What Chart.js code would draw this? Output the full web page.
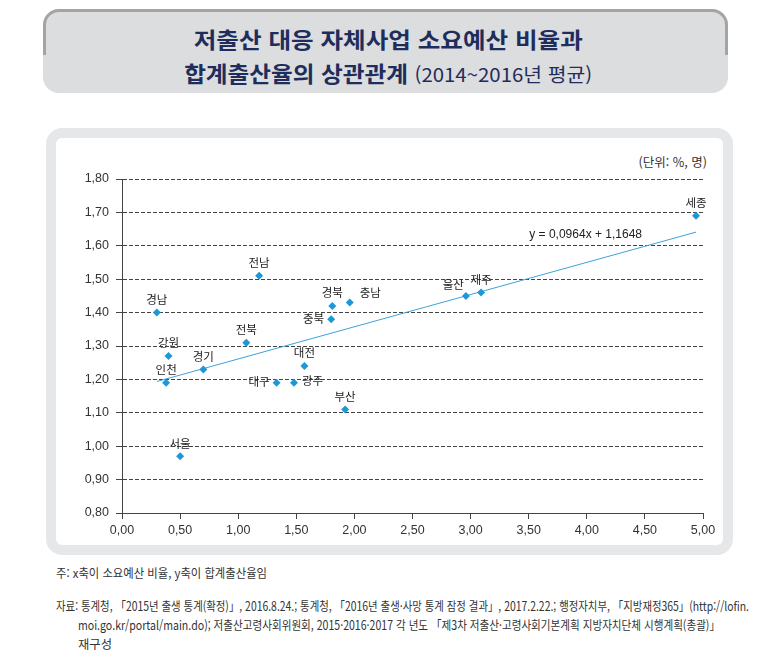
<!DOCTYPE html>
<html lang="ko">
<head>
<meta charset="utf-8">
<title>저출산 대응 자체사업 소요예산 비율과 합계출산율의 상관관계</title>
<script src="https://cdn.jsdelivr.net/npm/chart.js@4.4.1/dist/chart.umd.min.js"></script>
<style>
    html, body { margin: 0; padding: 0; background: #fff; }
    body { width: 759px; height: 657px; position: relative; overflow: hidden;
           font-family: "Noto Sans CJK KR", sans-serif; color: #222; }
    .title-box { position: absolute; left: 43px; top: 9px; width: 685px; height: 84px;
                 background: #dcdddf; border-radius: 16px; }
    .title-box:before { content: ''; position: absolute; left: 0; top: 0; right: 0; height: 46px;
                        box-sizing: border-box; border: 3px solid #a3a4a6; border-bottom: none;
                        border-radius: 16px 16px 0 0; }
    .tline { position: absolute; left: 0; width: 776px; text-align: center; line-height: 30px;
             white-space: nowrap; color: #1f2d5c; }
    .tline span { display: inline-block; transform-origin: center; }
    .t1 { top: 23px; font-size: 22px; font-weight: 700; }
    .t2 { top: 57px; font-size: 22px; font-weight: 700; }
    .t2 small { font-size: 19px; font-weight: 400; }
    .panel { position: absolute; left: 46px; top: 128px; width: 687px; height: 427px;
             box-sizing: border-box; border: 10px solid #e6e7e8; border-radius: 16px; background: #fff; }
    .chart-wrap { position: absolute; left: 56px; top: 138px; width: 666px; height: 407px; }
    .unit { position: absolute; right: 52px; top: 152px; font-size: 12.5px; color: #333; white-space: nowrap; }
    .note { position: absolute; white-space: nowrap; font-size: 12.5px; color: #333; line-height: 19px;
            transform-origin: left center; }
</style>
</head>
<body>
<div class="title-box"></div>
<div class="tline t1"><span data-w="389">저출산 대응 자체사업 소요예산 비율과</span></div>
<div class="tline t2"><span data-w="408">합계출산율의 상관관계 <small>(2014~2016년 평균)</small></span></div>

<div class="panel"></div>
<div class="unit">(단위: %, 명)</div>
<div class="chart-wrap"><canvas id="scatterChart"></canvas></div>

<div class="note" style="left:56px; top:563px;" data-w="211">주: x축이 소요예산 비율, y축이 합계출산율임</div>
<div class="note" style="left:56px; top:596px;" data-w="693">자료: 통계청, 「2015년 출생 통계(확정)」, 2016.8.24.; 통계청, 「2016년 출생·사망 통계 잠정 결과」, 2017.2.22.; 행정자치부, 「지방재정365」(http://lofin.</div>
<div class="note" style="left:78px; top:615px;" data-w="642">moi.go.kr/portal/main.do); 저출산고령사회위원회, 2015·2016·2017 각 년도 「제3차 저출산·고령사회기본계획 지방자치단체 시행계획(총괄)」</div>
<div class="note" style="left:78px; top:634px;" data-w="34">재구성</div>

<script>
// 시도별 값
const regions     = ['서울', '부산', '대구', '인천', '광주', '대전', '울산', '세종', '경기',
                     '강원', '충북', '충남', '전북', '전남', '경북', '경남', '제주'];
const budgetRatio = [0.50, 1.92, 1.33, 0.38, 1.48, 1.57, 2.96, 4.94, 0.70,
                     0.40, 1.80, 1.96, 1.07, 1.18, 1.81, 0.30, 3.09];
const fertility   = [0.97, 1.11, 1.19, 1.19, 1.19, 1.24, 1.45, 1.69, 1.23,
                     1.27, 1.38, 1.43, 1.31, 1.51, 1.42, 1.40, 1.46];

// 추세선 y = 0.0964x + 1.1648
const trendSlope = 0.0964;
const trendIntercept = 1.1648;
const trendLabel = 'y = 0,0964x + 1,1648';

const xTicks = [0, 0.5, 1, 1.5, 2, 2.5, 3, 3.5, 4, 4.5, 5];
const yTicks = [0.8, 0.9, 1.0, 1.1, 1.2, 1.3, 1.4, 1.5, 1.6, 1.7, 1.8];

// 라벨 위치 (기본은 점 위)
const labelSide = { '충북': 'left', '대구': 'left', '광주': 'right', '충남': 'upRight', '울산': 'upLeft' };

const fmt = v => Number(v).toFixed(2).replace('.', ',');

const points = regions.map((r, i) => ({ x: budgetRatio[i], y: fertility[i] }));
const xMin = Math.min(...budgetRatio), xMax = Math.max(...budgetRatio);
const trendPts = [xMin, xMax].map(x => ({ x: x, y: trendSlope * x + trendIntercept }));

const labelPlugin = {
    id: 'pointLabels',
    afterDatasetsDraw(chart) {
        const ctx = chart.ctx;
        const meta = chart.getDatasetMeta(0);
        ctx.save();
        ctx.font = '11.5px "Noto Sans CJK KR", sans-serif';
        ctx.fillStyle = '#222';
        ctx.textBaseline = 'middle';
        meta.data.forEach((pt, i) => {
            const name = regions[i];
            let x = pt.x, y = pt.y - 13, align = 'center';
            switch (labelSide[name]) {
                case 'left':    x = pt.x - 7;  y = pt.y - 1;  align = 'right'; break;
                case 'right':   x = pt.x + 8;  y = pt.y - 2;  align = 'left'; break;
                case 'upRight': x = pt.x + 10; y = pt.y - 10; align = 'left'; break;
                case 'upLeft':  x = pt.x - 2;  y = pt.y - 11; align = 'right'; break;
            }
            ctx.textAlign = align;
            ctx.fillText(name, x, y);
        });
        // 추세식
        const xs = chart.scales.x, ys = chart.scales.y;
        ctx.font = '12px "Liberation Sans", Arial, sans-serif';
        ctx.textAlign = 'center';
        ctx.fillText(trendLabel, xs.getPixelForValue(3.99), ys.getPixelForValue(1.633));
        ctx.restore();
    }
};

Chart.defaults.font.family = '"Liberation Sans", Arial, sans-serif';
Chart.defaults.color = '#333';

new Chart(document.getElementById('scatterChart').getContext('2d'), {
    type: 'scatter',
    data: {
        datasets: [
            {
                label: '시도',
                data: points,
                pointStyle: 'rectRot',
                pointRadius: 4,
                backgroundColor: '#1b98d5',
                borderColor: '#1b98d5',
                borderWidth: 0,
                order: 0
            },
            {
                type: 'line',
                label: '추세선',
                data: trendPts,
                borderColor: '#3ea2da',
                borderWidth: 1,
                pointRadius: 0,
                fill: false,
                order: 1
            }
        ]
    },
    options: {
        responsive: true,
        maintainAspectRatio: false,
        animation: false,
        layout: { padding: { top: 41, right: 19, left: 0, bottom: 0 } },
        plugins: {
            legend: { display: false },
            tooltip: { enabled: false }
        },
        scales: {
            x: {
                type: 'linear',
                min: 0, max: 5,
                afterFit: s => { s.height = 32; },
                afterBuildTicks: s => { s.ticks = xTicks.map(v => ({ value: v })); },
                grid: { drawOnChartArea: false, color: '#444', tickLength: 6, tickBorderDash: [] },
                border: { color: '#444', width: 1 },
                ticks: { padding: 4, font: { size: 12.5 }, color: '#333', maxRotation: 0,
                         callback: v => fmt(v) }
            },
            y: {
                type: 'linear',
                min: 0.8, max: 1.8,
                afterFit: s => { s.width = 66; },
                afterBuildTicks: s => { s.ticks = yTicks.map(v => ({ value: v })); },
                grid: { color: '#444', tickLength: 6, tickBorderDash: [] },
                border: { color: '#444', width: 1, dash: [4, 2] },
                ticks: { padding: 7, font: { size: 12.5 }, color: '#333',
                         callback: v => fmt(v) }
            }
        }
    },
    plugins: [labelPlugin]
});

// 글자 폭을 원본에 맞춤
document.querySelectorAll('[data-w]').forEach(el => {
    const w = el.getBoundingClientRect().width;
    if (w > 0) el.style.transform = 'scaleX(' + (el.dataset.w / w) + ')';
});
</script>
</body>
</html>
